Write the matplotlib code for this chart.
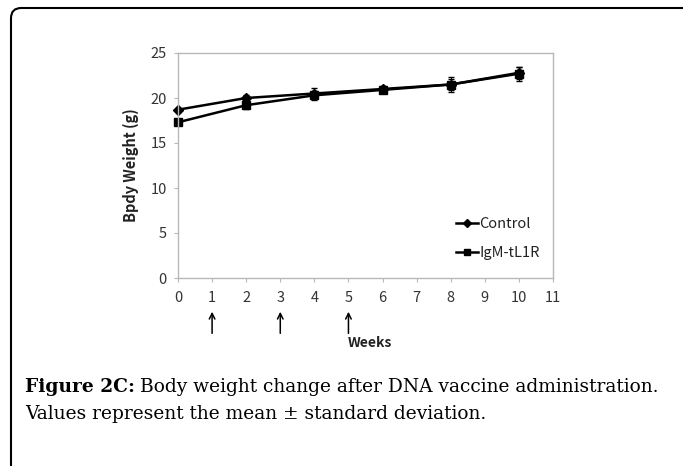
import matplotlib.pyplot as plt
from matplotlib.patches import FancyBboxPatch
from matplotlib.lines import Line2D

weeks = [0, 2, 4, 6, 8, 10]
control = [18.7, 20.0, 20.5, 21.0, 21.5, 22.8]
control_sd = [0.2, 0.3, 0.6, 0.3, 0.8, 0.7]
igm = [17.3, 19.2, 20.3, 20.9, 21.5, 22.7]
igm_sd = [0.2, 0.4, 0.5, 0.3, 0.6, 0.8]
vaccine_weeks = [1, 3, 5]

plt.rcParams['font.family'] = ['Noto Sans CJK KR', 'DejaVu Sans']

W, H = 683, 466
fig = plt.figure(figsize=(W / 100, H / 100), dpi=100)

# outer rounded frame, cut off at right and bottom
frame = FancyBboxPatch((11 / W, -0.05), 1.1, 1.05 - 8 / H,
                       boxstyle='round,pad=0,rounding_size=0.015',
                       transform=fig.transFigure, fill=False,
                       edgecolor='black', linewidth=1.5, clip_on=False,
                       mutation_aspect=W / H)
fig.patches.append(frame)

ax = fig.add_axes([178 / W, 1 - 278 / H, 375 / W, 225 / H])

for y, sd, m, ms in [(control, control_sd, 'D', 5), (igm, igm_sd, 's', 5.5)]:
    line, caps, bars = ax.errorbar(weeks, y, yerr=sd, color='black', marker=m,
                                   markersize=ms, linewidth=1.8, capsize=2,
                                   elinewidth=0.8)
    line.set_clip_on(False)

ax.set_xlim(0, 11)
ax.set_ylim(0, 25)
ax.set_xticks(range(0, 12))
ax.set_yticks(range(0, 26, 5))
for s in ax.spines.values():
    s.set_color('#b8b8b8')
    s.set_linewidth(1.0)
ax.tick_params(colors='#b8b8b8', labelcolor='#333333', labelsize=10.5,
               length=3, pad=6)
ax.tick_params(axis='y', pad=5)
ax.set_ylabel('Bpdy Weight (g)', fontweight='bold', fontsize=10.5,
              color='#222222', labelpad=8)

for w in vaccine_weeks:
    ax.annotate('', xy=(w, -3.75), xytext=(w, -6.15), annotation_clip=False,
                arrowprops=dict(arrowstyle='->', color='black', lw=1.1,
                                mutation_scale=10, shrinkA=0, shrinkB=0))
ax.text(4.98, -7.2, 'Weeks', fontweight='bold', fontsize=10, color='#222222',
        ha='left', va='center', clip_on=False)

handles = [Line2D([], [], color='black', marker='D', markersize=4.5, lw=1.8),
           Line2D([], [], color='black', marker='s', markersize=5, lw=1.8)]
ax.legend(handles, ['Control', 'IgM-tL1R'], loc='lower right',
          bbox_to_anchor=(1.0, 0.022), frameon=False,
          fontsize=10.5, handlelength=1.5, handletextpad=0.1,
          labelspacing=1.0, labelcolor='#222222')

# caption
r = fig.canvas.get_renderer()
t1 = fig.text(25 / W, 1 - 387 / H, 'Figure 2C:', fontsize=13,
              fontweight='bold', family='DejaVu Serif', va='center')
t2 = fig.text(0, 1 - 387 / H,
              'Body weight change after DNA vaccine administration.',
              fontsize=13, family='DejaVu Serif', va='center')
t3 = fig.text(25 / W, 1 - 414 / H,
              'Values represent the mean \u00b1 standard deviation.',
              fontsize=13, family='DejaVu Serif', va='center')
# fit the first caption line to the reference width (x 25..662)
w_total = t1.get_window_extent(r).width + t2.get_window_extent(r).width
size = 13 * (637 - 5) / w_total
for t in (t1, t2, t3):
    t.set_fontsize(size)
w1 = t1.get_window_extent(r).width
t2.set_x((25 + w1 + 5) / W)

fig.savefig('out.png', dpi=100)
